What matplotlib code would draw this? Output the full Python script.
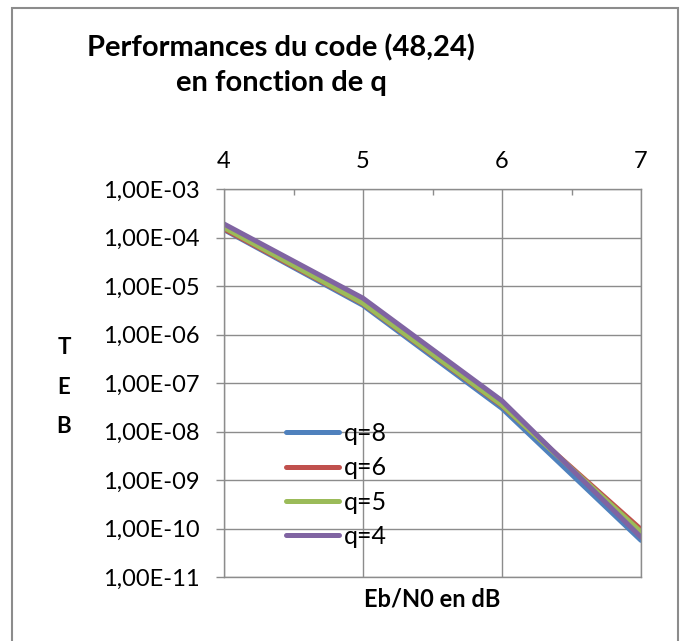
import numpy as np
import matplotlib
matplotlib.use("Agg")
import matplotlib.pyplot as plt
import matplotlib.ticker as ticker
from matplotlib.patches import Rectangle

plt.rcParams['font.family'] = ['Lato', 'DejaVu Sans']

# Eb/N0 in dB
ebn0 = [4, 5, 6, 7]
# TEB (bit error rate) for each quantisation q
teb_q8 = [1.45e-4, 4.0e-6, 3.0e-8, 5.7e-11]
teb_q6 = [1.50e-4, 4.3e-6, 3.4e-8, 9.6e-11]
teb_q5 = [1.60e-4, 4.4e-6, 3.5e-8, 8.5e-11]
teb_q4 = [1.90e-4, 5.6e-6, 4.3e-8, 6.6e-11]
series = [teb_q8, teb_q6, teb_q5, teb_q4]
label_names = ["q=8", "q=6", "q=5", "q=4"]
colors = ['#4F81BD', '#C0504D', '#9BBB59', '#8064A2']

grey = '#8c8c8c'
W, H = 682, 641
fig = plt.figure(figsize=(W / 100, H / 100), dpi=100)
ax = fig.add_axes([224 / W, 1 - 577 / H, (641 - 224) / W, (577 - 189) / H])

for i in range(len(series)):
    ax.plot(ebn0, series[i], color=colors[i], label=label_names[i], lw=3.6,
            solid_capstyle='round', solid_joinstyle='round')

ax.set_yscale('log')
ax.set_ylim(1e-11, 1e-3)
ax.set_xlim(4, 7)
ax.yaxis.set_major_locator(ticker.LogLocator(base=10, numticks=20))
ax.yaxis.set_minor_locator(ticker.NullLocator())
ax.yaxis.set_major_formatter(ticker.FuncFormatter(lambda v, p: ("%.2E" % v).replace('.', ',')))
ax.xaxis.set_major_locator(ticker.MultipleLocator(1))
ax.xaxis.set_minor_locator(ticker.MultipleLocator(0.5))
ax.xaxis.tick_top()
ax.tick_params(axis='x', which='major', length=0, labelsize=17, pad=12)
ax.tick_params(axis='x', which='minor', direction='in', length=4, color=grey, width=1)
ax.tick_params(axis='y', which='major', length=5.8, color=grey, width=1, labelsize=17, pad=12)
ax.grid(which='major', color=grey, lw=1)
for s in ax.spines.values():
    s.set_color(grey)
    s.set_linewidth(1)

ax.legend(loc='upper left', bbox_to_anchor=(286 / W, 1 - 422 / H), bbox_transform=fig.transFigure,
          frameon=False, fontsize=18, handlelength=2.1, handletextpad=0.2, labelspacing=0.45,
          borderpad=0, borderaxespad=0)

fig.text(281 / W, 1 - 34 / H, "Performances du code (48,24)\nen fonction de q", ha='center', va='top',
         fontsize=21, fontweight='bold', linespacing=1.4)
fig.text(64 / W, 1 - 387 / H, "T\nE\nB", ha='center', va='center', fontsize=16, fontweight='bold',
         linespacing=2.1)
fig.text(432 / W, 1 - 599 / H, "Eb/N0 en dB", ha='center', va='center', fontsize=17, fontweight='bold')

fig.patches.append(Rectangle((12 / W, -0.05), (678 - 12) / W, 1.05 - 8 / H, transform=fig.transFigure,
                             fill=False, edgecolor=grey, lw=1.5))

plt.savefig('out.png', dpi=100)
